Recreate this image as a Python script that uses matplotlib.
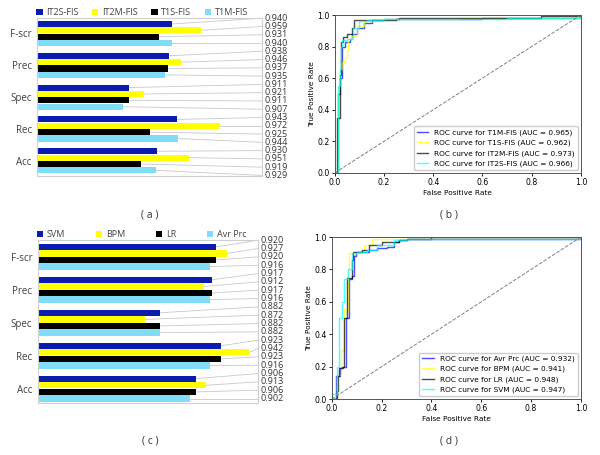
import numpy as np
import matplotlib.pyplot as plt

plt.rcParams['font.family'] = ['Open Sans', 'DejaVu Sans']

metrics = ['F-scr', 'Prec', 'Spec', 'Rec', 'Acc']

# panel (a) bar values
fis_names = ['IT2S-FIS', 'IT2M-FIS', 'T1S-FIS', 'T1M-FIS']
it2s_fis = [0.940, 0.938, 0.911, 0.943, 0.930]
it2m_fis = [0.959, 0.946, 0.921, 0.972, 0.951]
t1s_fis = [0.931, 0.937, 0.911, 0.925, 0.919]
t1m_fis = [0.940, 0.935, 0.907, 0.944, 0.929]

# panel (c) bar values
clf_names = ['SVM', 'BPM', 'LR', 'Avr Prc']
svm = [0.920, 0.917, 0.882, 0.923, 0.906]
bpm = [0.927, 0.912, 0.872, 0.942, 0.913]
lr = [0.920, 0.917, 0.882, 0.923, 0.906]
avr_prc = [0.916, 0.916, 0.882, 0.916, 0.902]

# panel (b) ROC curves
roc_b_labels = ['T1M-FIS', 'T1S-FIS', 'IT2M-FIS', 'IT2S-FIS']
roc_b_auc = [0.965, 0.962, 0.973, 0.966]
t1m_fpr = [0, 0.015, 0.02, 0.03, 0.04, 0.06, 0.07, 0.09, 0.12, 0.15, 0.2, 0.6, 1.0]
t1m_tpr = [0, 0.50, 0.60, 0.80, 0.83, 0.85, 0.88, 0.92, 0.95, 0.97, 0.975, 0.98, 1.0]
t1s_fpr = [0, 0.015, 0.02, 0.03, 0.04, 0.05, 0.055, 0.07, 0.09, 0.12, 0.16, 0.5, 1.0]
t1s_tpr = [0, 0.55, 0.66, 0.70, 0.73, 0.78, 0.85, 0.87, 0.93, 0.96, 0.975, 0.98, 1.0]
it2m_fpr = [0, 0.01, 0.02, 0.02, 0.025, 0.035, 0.035, 0.05, 0.05, 0.065, 0.07, 0.08,
            0.25, 0.26, 0.84, 0.84, 1.0]
it2m_tpr = [0, 0.35, 0.58, 0.62, 0.83, 0.84, 0.86, 0.87, 0.88, 0.88, 0.92, 0.97,
            0.975, 0.98, 0.985, 0.995, 1.0]
it2s_fpr = [0, 0.015, 0.02, 0.025, 0.03, 0.05, 0.07, 0.075, 0.1, 0.13, 0.2, 0.7, 1.0]
it2s_tpr = [0, 0.55, 0.66, 0.80, 0.84, 0.85, 0.86, 0.92, 0.96, 0.97, 0.975, 0.98, 1.0]

# panel (d) ROC curves
roc_d_labels = ['Avr Prc', 'BPM', 'LR', 'SVM']
roc_d_auc = [0.932, 0.941, 0.948, 0.947]
avr_fpr = [0, 0.016, 0.016, 0.032, 0.043, 0.056, 0.07, 0.083, 0.09, 0.096, 0.15, 0.18,
           0.22, 0.25, 0.27, 0.3, 1.0]
avr_tpr = [0, 0.0, 0.14, 0.19, 0.20, 0.50, 0.74, 0.76, 0.885, 0.91, 0.92, 0.93,
           0.94, 0.97, 0.98, 0.99, 1.0]
bpm_fpr = [0, 0.02, 0.035, 0.05, 0.065, 0.07, 0.12, 0.13, 0.16, 0.16, 0.25, 0.3, 1.0]
bpm_tpr = [0, 0.15, 0.30, 0.55, 0.80, 0.90, 0.92, 0.95, 0.96, 0.99, 0.99, 1.0, 1.0]
lr_fpr = [0, 0.02, 0.025, 0.03, 0.04, 0.05, 0.06, 0.07, 0.08, 0.085, 0.12, 0.15, 0.2,
          0.27, 0.3, 0.4, 0.75, 1.0]
lr_tpr = [0, 0.05, 0.14, 0.19, 0.20, 0.50, 0.75, 0.75, 0.86, 0.91, 0.92, 0.95, 0.97,
          0.98, 0.99, 1.0, 1.0, 1.0]
svm_fpr = [0, 0, 0.02, 0.02, 0.03, 0.04, 0.05, 0.065, 0.08, 0.1, 0.14, 0.18, 0.25, 0.3, 1.0]
svm_tpr = [0, 0.03, 0.03, 0.20, 0.50, 0.60, 0.74, 0.80, 0.90, 0.91, 0.92, 0.95, 0.98, 0.99, 1.0]

bar_colors = ['#0b1bb0', '#ffff00', '#000000', '#80dcf8']
roc_colors = ['blue', 'yellow', 'black', 'cyan']


def draw_bars(ax, series, names, xlim, ylim, label_range, colspace):
    n = len(series)
    ends = []
    for j, vals in enumerate(series):
        ypos = [g * (n + 1) + j for g in range(len(metrics))]
        ax.barh(ypos, vals, height=0.95, color=bar_colors[j], label=names[j])
        ends += list(zip(ypos, vals))
    ends.sort()
    ax.set_xlim(xlim)
    ax.set_ylim(ylim)
    ax.set_yticks([g * (n + 1) + (n - 1) / 2 for g in range(len(metrics))], metrics)
    ax.tick_params(axis='y', length=0, labelsize=7, labelcolor='#404040', pad=4)
    ax.set_xticks([])
    for s in ax.spines.values():
        s.set_color('#d0d0d0')
        s.set_linewidth(0.8)
    label_y = np.linspace(label_range[0], label_range[1], len(ends))
    for (y, v), ly in zip(ends, label_y):
        ax.plot([v, xlim[1]], [y, ly], color='#c8c8c8', lw=0.6, clip_on=False, zorder=0)
        ax.annotate(f'{v:.3f}', (xlim[1], ly), xytext=(2, 0), textcoords='offset points',
                    va='center', ha='left', fontsize=6.5, color='#333333',
                    annotation_clip=False)
    ax.legend(ncol=4, loc='lower left', bbox_to_anchor=(-0.01, 1.0),
              frameon=False, handlelength=0.7, handleheight=0.7, handletextpad=0.4,
              columnspacing=colspace, borderaxespad=0.05, borderpad=0.1, fontsize=6.5,
              labelcolor='#404040')


def draw_roc(ax, curves, labels, aucs):
    for (fpr, tpr), name, auc, c in zip(curves, labels, aucs, roc_colors):
        ax.step(fpr, tpr, where='post', color=c, alpha=0.7, lw=1,
                label=f'ROC curve for {name} (AUC = {auc:.3f})')
    ax.plot([0, 1], [0, 1], color='gray', lw=0.7, ls='--')
    ax.set_xlim(0, 1)
    ax.set_ylim(0, 1)
    ax.set_xlabel('False Positive Rate', fontsize=5.3, family='DejaVu Sans', labelpad=2)
    ax.set_ylabel('True Positive Rate', fontsize=5.3, family='DejaVu Sans', labelpad=2)
    ax.tick_params(labelsize=5.6, length=2, width=0.6, pad=1.5)
    for t in ax.get_xticklabels() + ax.get_yticklabels():
        t.set_family('DejaVu Sans')
    for s in ax.spines.values():
        s.set_color('#555555')
        s.set_linewidth(0.7)
    ax.legend(loc='lower right', prop={'family': 'DejaVu Sans', 'size': 5.3},
              framealpha=1, edgecolor='#cccccc', borderaxespad=0.4, handlelength=1.6)


fig = plt.figure(figsize=(6, 4.55), dpi=100)

ax_a = fig.add_axes([0.062, 0.613, 0.375, 0.347])
draw_bars(ax_a, [it2s_fis, it2m_fis, t1s_fis, t1m_fis], fis_names,
          (0.85, 1.0), (23.9, -0.9), (-0.9, 23.8), 1.5)

ax_b = fig.add_axes([0.558, 0.620, 0.410, 0.347])
draw_roc(ax_b, [(t1m_fpr, t1m_tpr), (t1s_fpr, t1s_tpr), (it2m_fpr, it2m_tpr),
                (it2s_fpr, it2s_tpr)], roc_b_labels, roc_b_auc)

ax_c = fig.add_axes([0.063, 0.114, 0.367, 0.358])
draw_bars(ax_c, [svm, bpm, lr, avr_prc], clf_names,
          (0.80, 0.948), (23.7, -1.0), (-1.0, 23.0), 3.4)

ax_d = fig.add_axes([0.553, 0.123, 0.415, 0.356])
draw_roc(ax_d, [(avr_fpr, avr_tpr), (bpm_fpr, bpm_tpr), (lr_fpr, lr_tpr),
                (svm_fpr, svm_tpr)], roc_d_labels, roc_d_auc)

for x, y, s in [(150, 215, '( a )'), (449, 215, '( b )'), (150, 441, '( c )'), (449, 441, '( d )')]:
    fig.text(x / 600, 1 - y / 455, s, ha='center', va='center', fontsize=7.5, color='#333333')

fig.savefig('out.png', dpi=100)
